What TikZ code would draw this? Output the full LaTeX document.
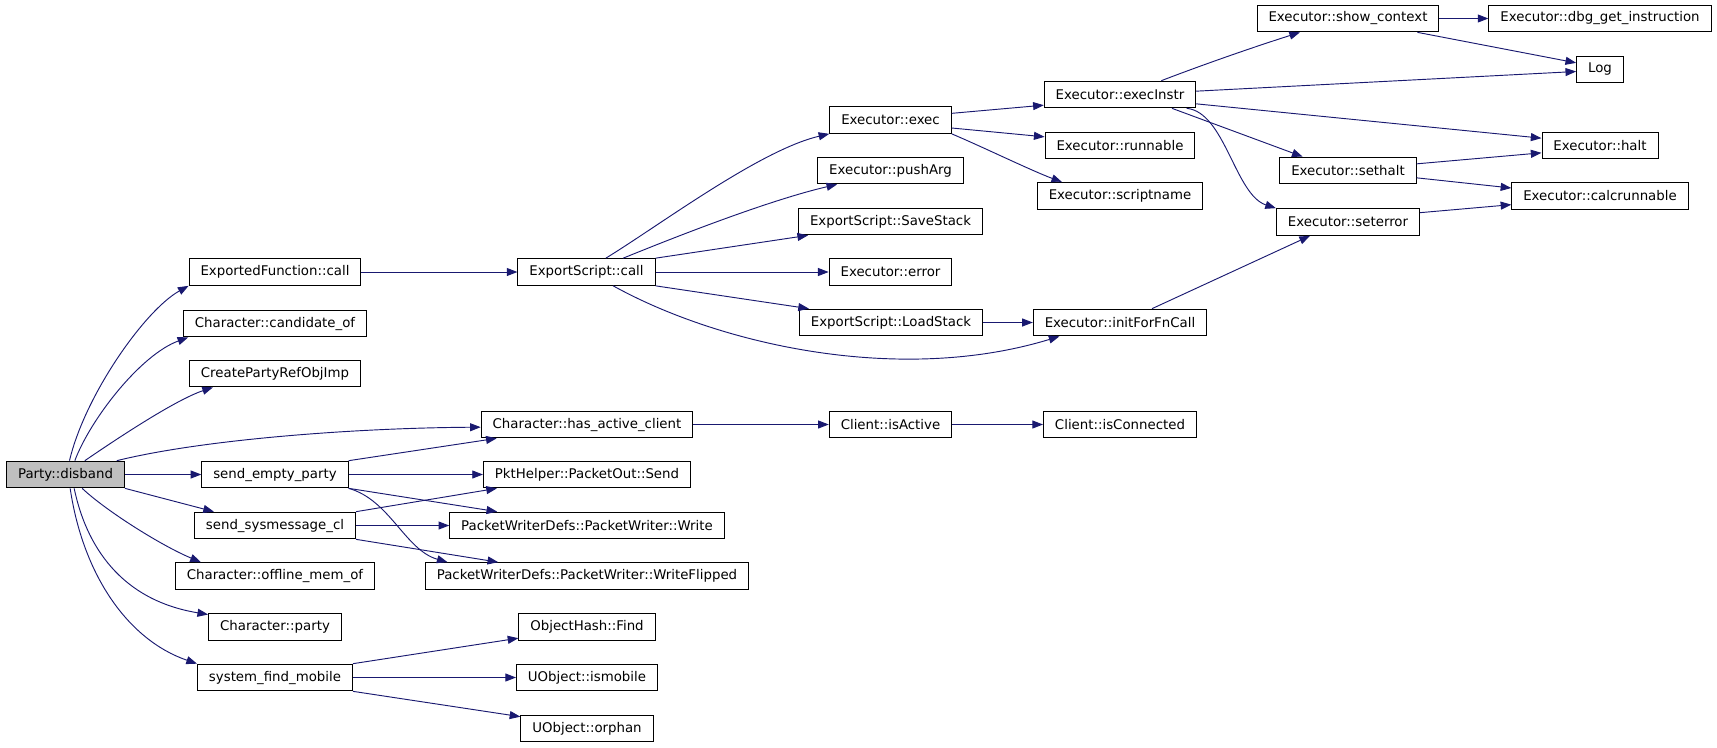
\documentclass[tikz,border=0pt]{standalone}
\usepackage{fontspec}
\newfontfamily\graphfont{DejaVu Sans}
\usetikzlibrary{arrows.meta}
\definecolor{callblue}{HTML}{191970}
\definecolor{rootgrey}{HTML}{BFBFBF}

\begin{document}
\begin{tikzpicture}[x=0.75pt,y=-0.75pt,
  fn/.style={draw=black, fill=white, line width=0.75pt, font=\graphfont\fontsize{10}{12}\selectfont,
    inner xsep=8.6pt, inner ysep=0pt, minimum height=20pt},
  root/.style={fn, fill=rootgrey},
  call/.style={draw=callblue, line width=0.7pt, -{Triangle[length=8pt,width=6pt]}}]
\useasboundingbox (0,0) rectangle (1717,747);

\node [root] (disband) at (65.5,474.5) {Party::disband};

% first column
\node [fn] (expfn)     at (275,272)   {ExportedFunction::call};
\node [fn] (cand)      at (275,323.5) {Character::candidate\_of};
\node [fn] (create)    at (275,373.5) {CreatePartyRefObjImp};
\node [fn] (sendempty) at (275,474.5) {send\_empty\_party};
\node [fn] (sendsys)   at (275,525.5) {send\_sysmessage\_cl};
\node [fn] (offline)   at (275,576)   {Character::offline\_mem\_of};
\node [fn] (charparty) at (275,627)   {Character::party};
\node [fn] (sysfind)   at (275,677.5) {system\_find\_mobile};

% second column
\node [fn] (escall)    at (586.5,272) {ExportScript::call};
\node [fn] (hasactive) at (587,424.5) {Character::has\_active\_client};
\node [fn] (pktsend)   at (587,474.5) {PktHelper::PacketOut::Send};
\node [fn] (write)     at (587,525.5) {PacketWriterDefs::PacketWriter::Write};
\node [fn] (writeflip) at (587,576)   {PacketWriterDefs::PacketWriter::WriteFlipped};
\node [fn] (find)      at (587,627)   {ObjectHash::Find};
\node [fn] (ismobile)  at (587,677.5) {UObject::ismobile};
\node [fn] (orphan)    at (587,728.5) {UObject::orphan};

% third column
\node [fn] (exec)      at (890.5,120)   {Executor::exec};
\node [fn] (pusharg)   at (890.5,170.5) {Executor::pushArg};
\node [fn] (savestack) at (890.5,221.5) {ExportScript::SaveStack};
\node [fn] (error)     at (890.5,272)   {Executor::error};
\node [fn] (loadstack) at (891,322.5)   {ExportScript::LoadStack};
\node [fn] (isactive)  at (890.5,424.5) {Client::isActive};

% fourth column
\node [fn] (execinstr) at (1120,94.5)  {Executor::execInstr};
\node [fn] (runnable)  at (1120,145.5) {Executor::runnable};
\node [fn] (scriptname) at (1120,196)  {Executor::scriptname};
\node [fn] (initfn)    at (1120,322.5) {Executor::initForFnCall};
\node [fn] (isconn)    at (1120,424.5) {Client::isConnected};

% fifth and sixth column
\node [fn] (showctx)   at (1348,18.5)  {Executor::show\_context};
\node [fn] (sethalt)   at (1348,170.5) {Executor::sethalt};
\node [fn] (seterror)  at (1348,222)   {Executor::seterror};
\node [fn] (dbg)       at (1600,18.5)  {Executor::dbg\_get\_instruction};
\node [fn] (log)       at (1600,69.5)  {Log};
\node [fn] (halt)      at (1600,145.5) {Executor::halt};
\node [fn] (calcrun)   at (1600,196)   {Executor::calcrunnable};

% calls of Party::disband
\draw [call] ([xshift=3pt]disband.north) .. controls (85,395) and (145,310) .. (expfn.south west);
\draw [call] ([xshift=7pt]disband.north) .. controls (90,420) and (140,355) .. ([xshift=4pt]cand.south west);
\draw [call] ([xshift=14.5pt]disband.north) .. controls (115,440) and (175,400) .. ([xshift=18pt]create.south west);
\draw [call] ([xshift=38.5pt]disband.north) .. controls (200,440) and (350,428) .. ([yshift=-2pt]hasactive.west);
\draw [call] (disband) -- (sendempty);
\draw [call] (disband.south east) -- ([xshift=15pt]sendsys.north west);
\draw [call] ([xshift=12.5pt]disband.south) .. controls (105,510) and (160,545) .. ([xshift=19.5pt]offline.north west);
\draw [call] ([xshift=6.5pt]disband.south) .. controls (86,545) and (120,600) .. ([yshift=-1pt]charparty.north west);
\draw [call] ([xshift=3.5pt]disband.south) .. controls (83,575) and (128,640) .. (sysfind.north west);

\draw [call] (sendempty.north east) -- ([xshift=12pt]hasactive.south west);
\draw [call] (sendempty) -- (pktsend);
\draw [call] (sendempty.south east) -- ([xshift=36pt]write.north west);
\draw [call] (sendempty.south east) .. controls (390,500) and (405,550) .. ([xshift=17pt]writeflip.north west);
\draw [call] (sendsys.north east) -- ([xshift=10.5pt]pktsend.south west);
\draw [call] (sendsys) -- (write);
\draw [call] (sendsys.south east) -- ([xshift=55pt]writeflip.north west);
\draw [call] (sysfind.north east) -- ([yshift=2pt]find.south west);
\draw [call] (sysfind) -- (ismobile);
\draw [call] (sysfind.south east) -- ([yshift=-1.5pt]orphan.north west);

\draw [call] (expfn) -- (escall);
\draw [call] (hasactive) -- (isactive);
\draw [call] (isactive) -- (isconn);

% calls of ExportScript::call
\draw [call] ([xshift=14.5pt]escall.north) .. controls (660,225) and (760,150) .. (exec.south west);
\draw [call] ([xshift=27.5pt]escall.north) .. controls (680,235) and (770,200) .. ([xshift=15pt]pusharg.south west);
\draw [call] (escall.north east) -- ([xshift=7.5pt]savestack.south west);
\draw [call] (escall) -- (error);
\draw [call] (escall.south east) -- ([xshift=7.5pt]loadstack.north west);
\draw [call] ([xshift=20pt]escall.south) .. controls (720,345) and (900,385) .. ([xshift=20pt]initfn.south west);
\draw [call] (loadstack) -- (initfn);

\draw [call] ([yshift=5pt]exec.east) -- ([yshift=-8pt]execinstr.west);
\draw [call] ([yshift=-6pt]exec.east) -- ([yshift=6.5pt]runnable.west);
\draw [call] (exec.south east) .. controls (985,148) and (1030,170) .. ([xshift=19pt]scriptname.north west);

% calls of Executor::execInstr
\draw [call] ([xshift=31pt]execinstr.north) .. controls (1210,62) and (1260,45) .. ([xshift=-36pt]showctx.south);
\draw [call] ([yshift=2.5pt]execinstr.east) -- ([yshift=-1.5pt]log.west);
\draw [call] ([yshift=-7pt]execinstr.east) -- ([yshift=5.5pt]halt.west);
\draw [call] ([xshift=39pt]execinstr.south) -- ([xshift=-34pt]sethalt.north);
\draw [call] ([xshift=50pt]execinstr.south) .. controls (1225,112) and (1235,195) .. (seterror.north west);

\draw [call] (showctx) -- (dbg);
\draw [call] ([xshift=52pt]showctx.south) -- ([yshift=5pt]log.west);
\draw [call] ([yshift=5pt]sethalt.east) -- ([yshift=-5.5pt]halt.west);
\draw [call] ([yshift=-5.5pt]sethalt.east) -- ([yshift=6pt]calcrun.west);
\draw [call] ([yshift=7pt]seterror.east) -- ([yshift=-6.5pt]calcrun.west);
\draw [call] ([xshift=24pt]initfn.north) -- ([xshift=-28.5pt]seterror.south);

\end{tikzpicture}
\end{document}
